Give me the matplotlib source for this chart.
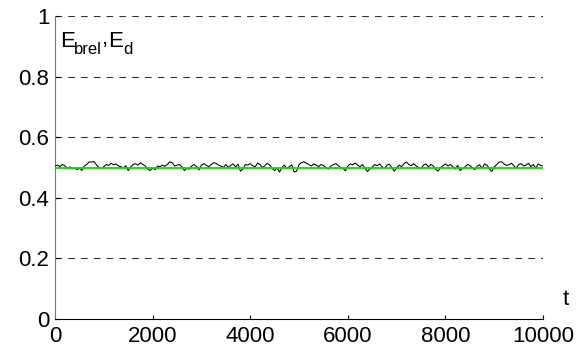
import numpy as np
import matplotlib
matplotlib.use("Agg")
import matplotlib.pyplot as plt

plt.rcParams['font.family'] = ['Liberation Sans', 'DejaVu Sans']

e_brel = [
    0.505, 0.508, 0.503, 0.510, 0.506, 0.498, 0.502, 0.496, 0.500, 0.493,
    0.498, 0.490, 0.505, 0.510, 0.519, 0.518, 0.520, 0.509, 0.500, 0.498,
    0.503, 0.510, 0.507, 0.514, 0.509, 0.512, 0.505, 0.503, 0.498, 0.506,
    0.490, 0.502, 0.510, 0.513, 0.508, 0.516, 0.510, 0.505, 0.495, 0.490,
    0.498, 0.493, 0.505, 0.503, 0.508, 0.504, 0.510, 0.519, 0.516, 0.505,
    0.508, 0.510, 0.502, 0.490, 0.497, 0.495, 0.505, 0.510, 0.503, 0.492,
    0.508, 0.513, 0.507, 0.503, 0.510, 0.516, 0.514, 0.508, 0.505, 0.500,
    0.510, 0.500, 0.507, 0.512, 0.502, 0.511, 0.488, 0.495, 0.510, 0.508,
    0.513, 0.506, 0.502, 0.515, 0.510, 0.500, 0.506, 0.514, 0.508, 0.497,
    0.490, 0.498, 0.485, 0.500, 0.508, 0.497, 0.503, 0.509, 0.485, 0.488,
    0.510, 0.516, 0.519, 0.514, 0.510, 0.505, 0.512, 0.508, 0.503, 0.510,
    0.507, 0.500, 0.495, 0.505, 0.509, 0.513, 0.507, 0.500, 0.497, 0.489,
    0.505, 0.512, 0.509, 0.515, 0.508, 0.503, 0.510, 0.498, 0.487, 0.495,
    0.502, 0.510, 0.506, 0.512, 0.503, 0.497, 0.508, 0.511, 0.500, 0.488,
    0.499, 0.508, 0.503, 0.513, 0.518, 0.510, 0.506, 0.513, 0.505, 0.500,
    0.497, 0.508, 0.512, 0.502, 0.510, 0.505, 0.494, 0.488, 0.500, 0.506,
    0.512, 0.505, 0.510, 0.503, 0.495, 0.507, 0.490, 0.497, 0.502, 0.510,
    0.507, 0.499, 0.493, 0.505, 0.509, 0.497, 0.512, 0.508, 0.496, 0.487,
    0.502, 0.510, 0.518, 0.519, 0.512, 0.507, 0.509, 0.514, 0.506, 0.498,
    0.510, 0.513, 0.505, 0.508, 0.514, 0.503, 0.510, 0.498, 0.512, 0.507,
    0.505,
]
t_step = 50
e_d = 0.5

x_ticks = [0, 2000, 4000, 6000, 8000, 10000]
y_ticks = [0, 0.2, 0.4, 0.6, 0.8, 1]
y_tick_labels = ['0', '0.2', '0.4', '0.6', '0.8', '1']

t = np.arange(len(e_brel)) * t_step

W, H = 579, 358
fig = plt.figure(figsize=(W / 100, H / 100), dpi=100)
ax = fig.add_axes([0.095, 0.109, 0.843, 0.846])

ax.plot(t, e_brel, color='black', lw=0.75, zorder=3)
ax.plot([t[0], t[-1]], [e_d, e_d], color='#00e000', lw=1.3, zorder=4)

ax.set_xlim(0, 10000)
ax.set_ylim(0, 1)
ax.set_xticks(x_ticks)
ax.set_xticklabels([str(v) for v in x_ticks])
ax.set_yticks(y_ticks)
ax.set_yticklabels(y_tick_labels)

for y in y_ticks[1:]:
    ax.axhline(y, color='#333333', lw=0.8, linestyle=(0, (6, 5.5)), zorder=1)

for s in ['top', 'right']:
    ax.spines[s].set_visible(False)
ax.spines['left'].set_color('#777777')
ax.spines['bottom'].set_color('black')
ax.tick_params(direction='in', length=3, labelsize=16, width=0.8, pad=5)
ax.tick_params(axis='y', pad=4)


def ptext(x, y, s, size):
    fig.text(x / W, 1 - y / H, s, fontsize=size, ha='left', va='baseline')


ptext(60, 47, 'E', 16)
ptext(74, 54, 'brel', 12)
ptext(101.5, 44, ',', 16)
ptext(108, 47, 'E', 16)
ptext(123, 54, 'd', 12)

ax.text(1.04, 0.03, 't', transform=ax.transAxes, fontsize=16, ha='left', va='bottom')

fig.savefig('out.png', dpi=100)
